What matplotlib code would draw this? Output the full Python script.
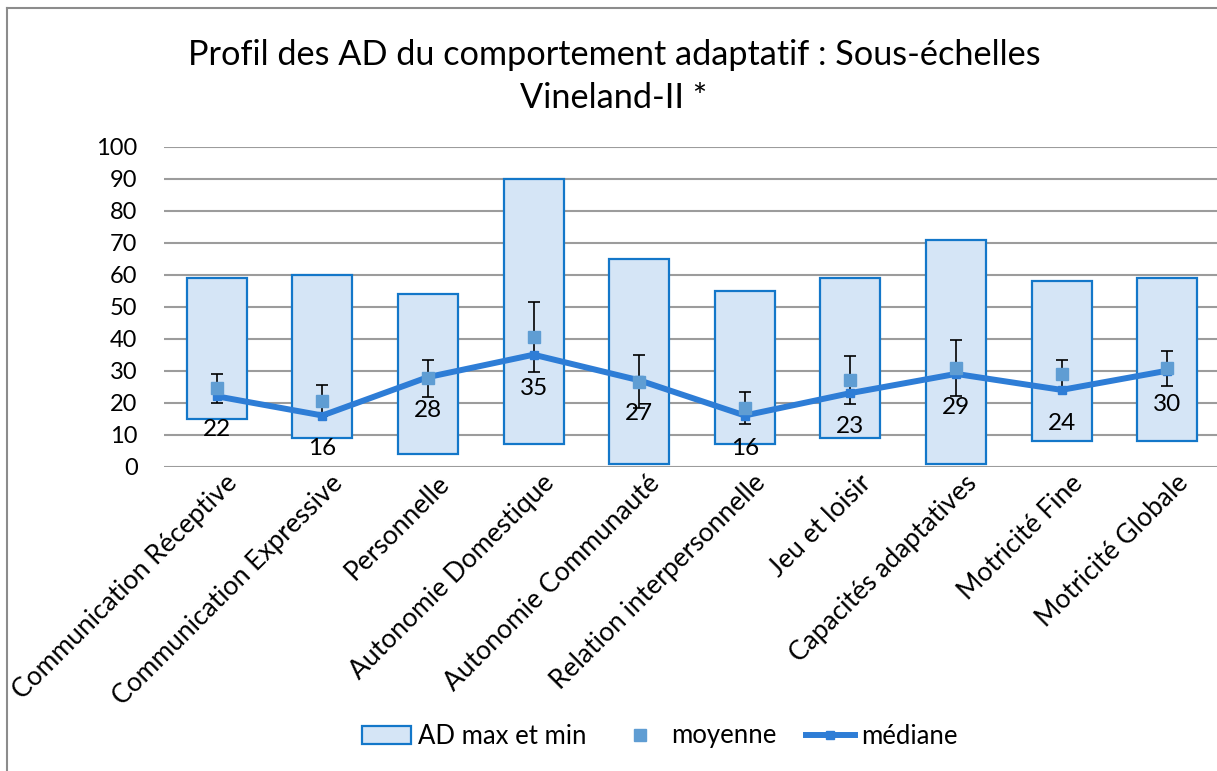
import numpy as np
import matplotlib.pyplot as plt
import matplotlib.transforms as mtransforms
from matplotlib.lines import Line2D
from matplotlib.patches import Patch

plt.rcParams['font.family'] = ['Lato', 'DejaVu Sans']

categories = ['Communication Réceptive', 'Communication Expressive', 'Personnelle',
              'Autonomie Domestique', 'Autonomie Communauté', 'Relation interpersonnelle',
              'Jeu et loisir', 'Capacités adaptatives', 'Motricité Fine', 'Motricité Globale']
ad_min = [15, 9, 4, 7, 1, 7, 9, 1, 8, 8]
ad_max = [59, 60, 54, 90, 65, 55, 59, 71, 58, 59]
moyenne = [24.5, 20.6, 27.6, 40.6, 26.6, 18.5, 27.1, 30.9, 28.9, 30.7]
ecart = [4.6, 4.9, 5.7, 11.0, 8.3, 5.0, 7.4, 8.8, 4.3, 5.5]
mediane = [22, 16, 28, 35, 27, 16, 23, 29, 24, 30]

fig = plt.figure(figsize=(12.17, 7.71), dpi=100)
ax = fig.add_axes([164 / 1217, 304.3 / 771, 1056 / 1217, 320 / 771])

x = np.arange(len(categories))
heights = np.array(ad_max) - np.array(ad_min)
ax.bar(x, heights, bottom=ad_min, width=0.57, color='#D5E5F6', edgecolor='#1377C9',
       linewidth=1.6, zorder=2)
ax.errorbar(x, moyenne, yerr=ecart, fmt='none', ecolor='black', elinewidth=1.2,
            capsize=4.3, capthick=1.2, zorder=3)
ax.plot(x, mediane, color='#2E7DD6', linewidth=4.3, marker='s', markersize=6, zorder=4)
ax.plot(x, moyenne, linestyle='none', marker='s', markersize=9, color='#5F9DD3', zorder=5)

for xi, m in zip(x, mediane):
    ax.annotate(str(m), (xi, m), xytext=(0, -24), textcoords='offset points',
                ha='center', va='center', fontsize=17.5, zorder=6)

ax.set_xlim(-0.5, len(categories) - 0.5)
ax.set_ylim(0, 100)
ax.set_yticks(range(0, 101, 10))
ax.yaxis.grid(True, color='#9C9C9C', linewidth=1.5, zorder=0)
ax.set_axisbelow(True)
for s in ax.spines.values():
    s.set_visible(False)
ax.tick_params(axis='both', length=0, labelsize=17)
ax.tick_params(axis='y', pad=19)
ax.set_xticks(x)
ax.set_xticklabels(categories, rotation=45, ha='right', va='center',
                   rotation_mode='anchor', fontsize=19)
ax.tick_params(axis='x', pad=14)
shift = mtransforms.ScaledTranslation(0.17, 0.07, fig.dpi_scale_trans)
for lab in ax.get_xticklabels():
    lab.set_transform(lab.get_transform() + shift)

fig.text(614 / 1217, 1 - 55 / 771, 'Profil des AD du comportement adaptatif : Sous-échelles',
         ha='center', va='center', fontsize=24.7)
fig.text(614 / 1217, 1 - 98 / 771, 'Vineland-II *', ha='center', va='center', fontsize=24.7)

handles = [Patch(facecolor='#D5E5F6', edgecolor='#1377C9', linewidth=1.6),
           Line2D([], [], linestyle='none', marker='s', markersize=9, color='#5F9DD3'),
           Line2D([], [], color='#2E7DD6', linewidth=4.3, marker='s', markersize=6)]
fig.legend(handles, ['AD max et min', 'moyenne', 'médiane'], ncol=3, frameon=False,
           loc='center', bbox_to_anchor=(660 / 1217, 1 - 736 / 771), fontsize=18.5,
           handlelength=1.9, columnspacing=1.15, handletextpad=0.25)

fig.add_artist(Line2D([7 / 1217, 7 / 1217], [0, 1 - 8 / 771], transform=fig.transFigure,
                      color='#8C8C8C', linewidth=1.5))
fig.add_artist(Line2D([7 / 1217, 1], [1 - 8 / 771, 1 - 8 / 771], transform=fig.transFigure,
                      color='#8C8C8C', linewidth=1.5))

fig.savefig('out.png', dpi=100)
